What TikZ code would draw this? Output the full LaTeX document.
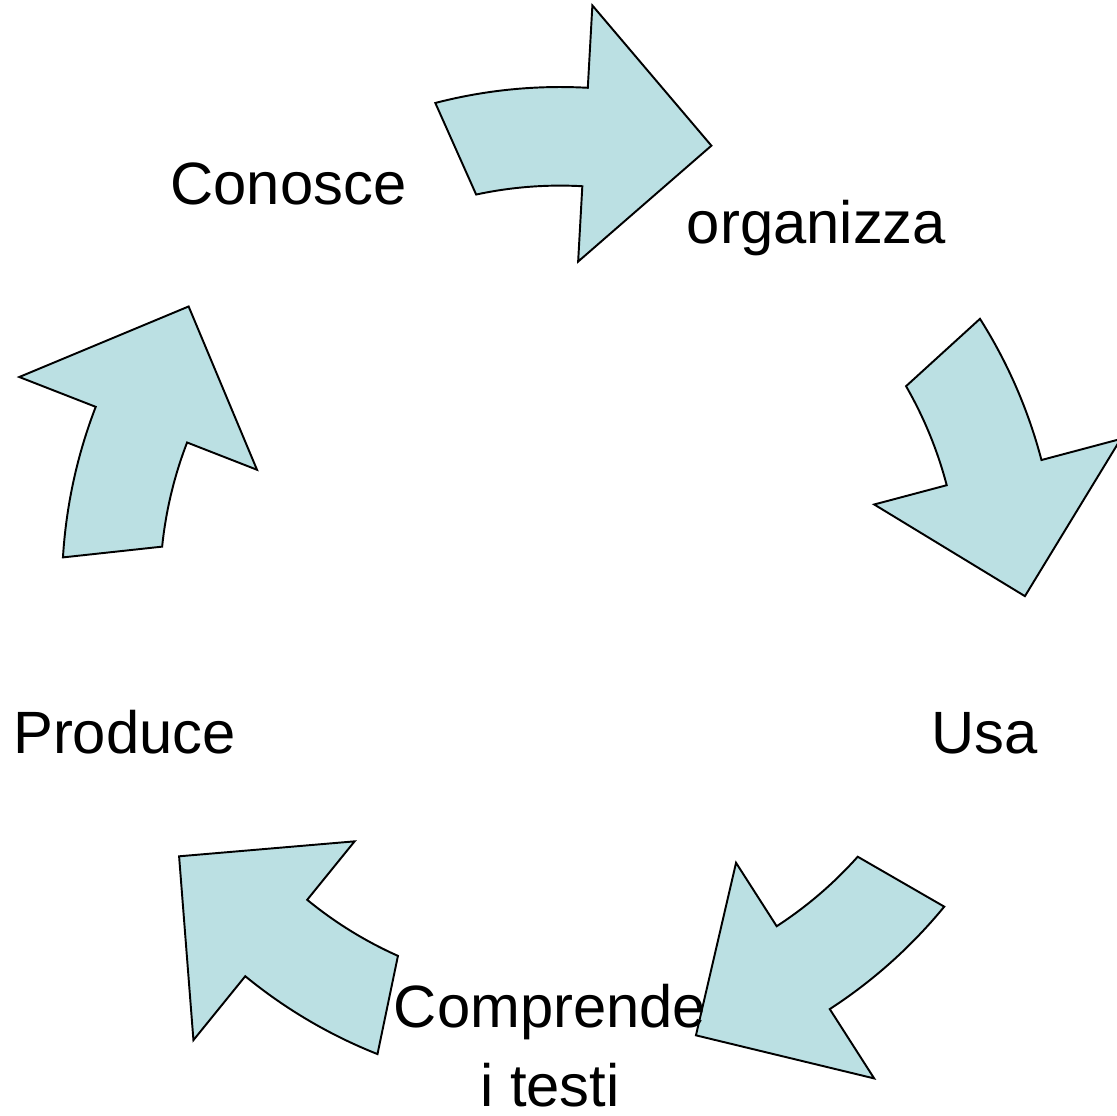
\documentclass[tikz,border=0pt]{standalone}
\usepackage{fontspec}
\setmainfont{Liberation Sans}
\usepackage{tikz}
\usetikzlibrary{calc}
\definecolor{arrowfill}{RGB}{187,224,227}
\def\cyclearrow[#1](#2){\draw[#1] (#2+1.2:498) arc (#2+1.2:#2-16.5:498) -- (#2-16.5:580) -- (#2-32.3:465) -- (#2-16.5:325) -- (#2-16.5:400) arc (#2-16.5:#2-1.2:400) -- cycle;}

\begin{document}
\begin{tikzpicture}[x=0.02cm, y=0.02cm]
			%%%%% START %%%%%
			
			\useasboundingbox (0, 0) rectangle (1117, 1116);
			
			\begin{scope}[shift={(560, 528)}, yscale=1.006]
				\foreach \a in {103.3, 31.3, -40.7, -112.7, -184.7}
				{
					\cyclearrow[fill=arrowfill, line width=1.1pt, line join=miter](\a);
				}
			\end{scope}
			
			\node[anchor=base, inner sep=0] (conosce) at (288.5, 911) {\fontsize{34}{45.5}\selectfont Conosce};
			\node[anchor=base, inner sep=0] (organizza) at (816.5, 872) {\fontsize{34}{45.5}\selectfont organizza};
			\node[anchor=base, inner sep=0] (usa) at (984.5, 362) {\fontsize{34}{45.5}\selectfont Usa};
			\node[anchor=base, inner sep=0, align=center, font=\fontsize{34}{45.5}\selectfont] (comprende) at (550, 9) {Comprende\\i testi};
			\node[anchor=base, inner sep=0] (produce) at (124.5, 362) {\fontsize{34}{45.5}\selectfont Produce};
			
			%%%%% END %%%%%
		\end{tikzpicture}
\end{document}
